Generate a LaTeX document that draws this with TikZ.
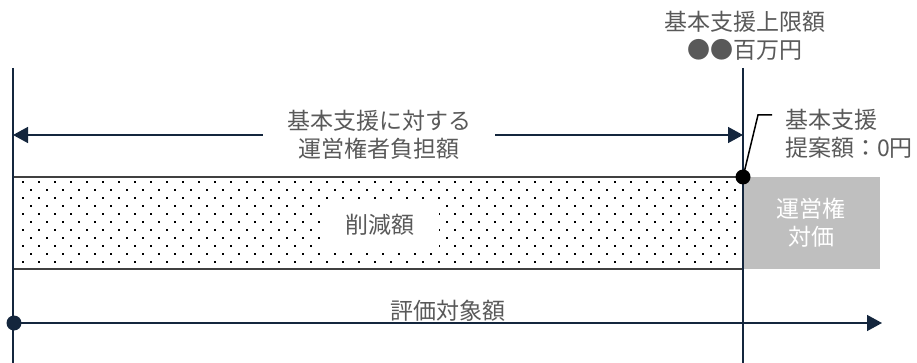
\documentclass[tikz,border=0pt]{standalone}
\usepackage{fontspec}
\setmainfont{Noto Sans CJK JP}
\usetikzlibrary{arrows.meta}

\definecolor{navy}{HTML}{14263D}
\definecolor{txtgray}{HTML}{595959}
\definecolor{boxgray}{HTML}{BFBFBF}
\definecolor{edgegray}{HTML}{404040}

\tikzset{
    lbl/.style={text=txtgray, font=\fontsize{23}{28}\selectfont, align=center, inner sep=0pt},
    arr/.style={navy, line width=1.5pt, -{Triangle[length=15pt,width=16pt]}},
    axis/.style={navy, line width=1.5pt},
    edge/.style={edgegray, line width=2pt},
}

\begin{document}
\begin{tikzpicture}[x=1pt,y=-1pt]
        \useasboundingbox (0,0) rectangle (917,363);

        % dotted block
        \fill[white] (13,177) rectangle (743,269);
        \foreach \y in {181,197,...,261}
            \foreach \x in {22,38,...,735}
                \fill[black] (\x,\y) rectangle +(1.7,1.7);
        \foreach \y in {189,205,...,253}
            \foreach \x in {30,46,...,735}
                \fill[black] (\x,\y) rectangle +(1.7,1.7);
        \draw[edge] (13,177) -- (743,177);
        \draw[edge] (13,269) -- (743,269);
        \node[lbl, fill=white, inner xsep=24pt, inner ysep=12pt] (cut) at (380,225) {削減額};

        % concession price block
        \node[lbl, text=white, fill=boxgray, minimum width=138pt, minimum height=92pt] (price) at (811,223) {運営権\\対価};

        % vertical lines
        \coordinate (ltop) at (13,68);
        \coordinate (lbot) at (13,363);
        \coordinate (rtop) at (743,68);
        \coordinate (rbot) at (743,363);
        \draw[axis] (ltop) -- (lbot);
        \draw[axis] (rtop) -- (rbot);

        % labels
        \node[lbl] (cap) at (745,36) {基本支援上限額\\●●百万円};
        \node[lbl, inner xsep=24pt] (share) at (379,135) {基本支援に対する\\運営権者負担額};
        \draw[arr] (share.west) -- (share.west -| ltop);
        \draw[arr] (share.east) -- (share.east -| rtop);

        % proposal callout
        \node[circle, fill=black, minimum size=15pt, inner sep=0pt] (pin) at (743,177) {};
        \coordinate (knee) at (758,115);
        \coordinate (tail) at (772,115);
        \draw[black, line width=1.5pt] (pin.center) -- (knee) -- (tail);
        \node[lbl, anchor=west, align=left] (prop) at (785,134) {基本支援\\提案額：0円};

        % evaluation range
        \node[circle, fill=navy, minimum size=15pt, inner sep=0pt] (start) at (14,323) {};
        \coordinate (stop) at (882,323);
        \draw[arr] (start.center) -- (stop);
        \node[lbl, anchor=base] (eval) at (448,319) {評価対象額};
    \end{tikzpicture}
\end{document}
